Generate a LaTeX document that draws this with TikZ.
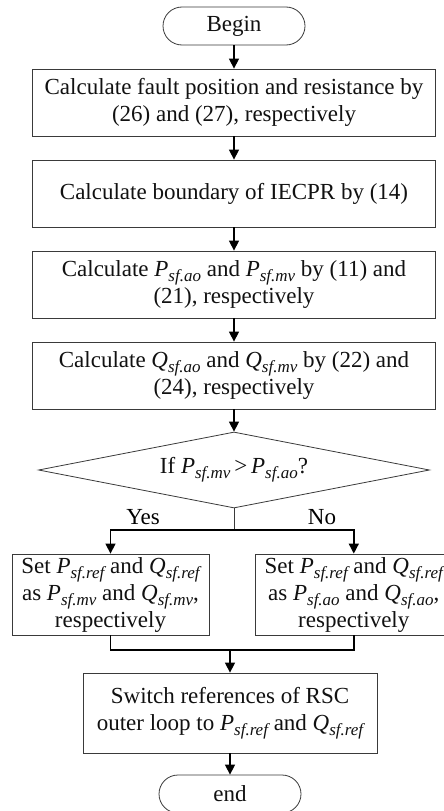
\documentclass[tikz,border=0pt]{standalone}
\usepackage{fontspec}
\setmainfont{Liberation Serif}
\usepackage{tikz}
\usetikzlibrary{arrows.meta,shapes.geometric}
\definecolor{FlowEdge}{HTML}{3A3A3A}
\definecolor{FlowInk}{HTML}{111111}
\newcommand{\fq}[2]{\textit{#1}\raisebox{-0.5ex}{\fontsize{17}{17}\selectfont\itshape #2}}

\begin{document}
\begin{tikzpicture}[
  x=1pt,
  y=-1pt,
  font=\fontsize{23}{27}\selectfont,
  box/.style={
    draw=FlowEdge,
    line width=0.8pt,
    align=center,
    inner sep=2pt,
    text=FlowInk,
    fill=white
  },
  procbox/.style={box, minimum width=403pt, minimum height=67pt},
  setbox/.style={box, minimum width=197pt, minimum height=81pt},
  switchbox/.style={box, minimum width=294pt, minimum height=80pt},
  termbox/.style={box, rounded corners=19pt, minimum width=142pt, minimum height=38pt},
  decbox/.style={box, diamond, aspect=5.1, minimum width=391pt, minimum height=76pt, inner sep=0pt},
  arrow/.style={-{Triangle[length=10pt,width=10pt]}, line width=1.4pt, draw=black},
  joinline/.style={line width=1.4pt, draw=black}
]
\useasboundingbox (0,0) rectangle (444,811);

\node[termbox] (begin) at (234,26) {Begin};
\node[procbox] (fault) at (234,102.5) {Calculate fault position and resistance by\\(26) and (27), respectively};
\node[procbox] (bound) at (234,193.5) {Calculate boundary of IECPR by (14)};
\node[procbox] (pcalc) at (234,284.5) {Calculate \fq{P}{sf.ao}\ and \fq{P}{sf.mv} by (11) and\\(21), respectively};
\node[procbox] (qcalc) at (234,375.5) {Calculate \fq{Q}{sf.ao}\ and \fq{Q}{sf.mv} by (22) and\\(24), respectively};
\node[decbox] (ifp) at (234,470) {If \fq{P}{sf.mv}\,>\,\fq{P}{sf.ao}?};
\coordinate (split) at (234,530);
\node (yes) at (143,517) {Yes};
\node (no) at (322,517) {No};
\node[setbox] (setmv) at (110.5,594.5) {Set \fq{P}{sf.ref}\ and \fq{Q}{sf.ref}\\as \fq{P}{sf.mv} and \fq{Q}{sf.mv},\\respectively};
\node[setbox] (setao) at (353.8,594.5) {Set \fq{P}{sf.ref}\ and \fq{Q}{sf.ref}\\as \fq{P}{sf.ao} and \fq{Q}{sf.ao},\\respectively};
\coordinate (merge) at (230,650);
\node[switchbox] (switch) at (230,713) {Switch references of RSC\\outer loop to \fq{P}{sf.ref} and \fq{Q}{sf.ref}};
\node[termbox] (end) at (230,794) {end};

\draw[arrow] (begin) -- (fault);
\draw[arrow] (fault) -- (bound);
\draw[arrow] (bound) -- (pcalc);
\draw[arrow] (pcalc) -- (qcalc);
\draw[arrow] (qcalc) -- (ifp);
\draw[line width=0.6pt, draw=FlowEdge] (ifp.south) -- (split);
\draw[arrow] (split) -| (setmv.north);
\draw[arrow] (split) -| (setao.north);
\draw[joinline] (setmv.south) |- (merge);
\draw[joinline] (setao.south) |- (merge);
\draw[arrow] (merge) -- (switch);
\draw[arrow] (switch) -- (end);
\end{tikzpicture}
\end{document}
